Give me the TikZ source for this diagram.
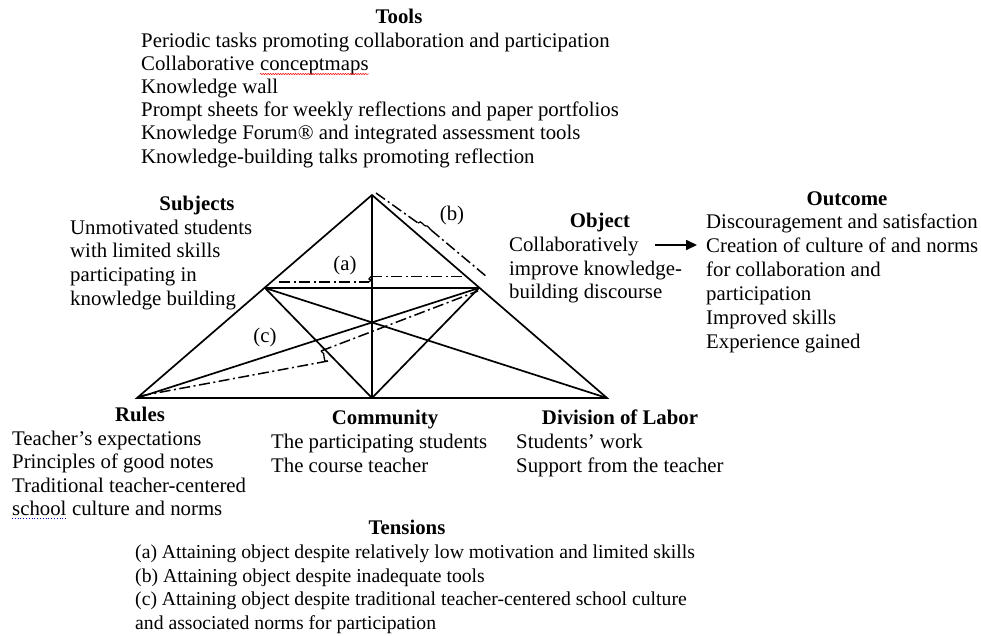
\documentclass[tikz,border=0pt]{standalone}
\usepackage{fontspec}
\setmainfont{Liberation Serif}
\usetikzlibrary{arrows.meta,decorations.pathmorphing}
\begin{document}
\begin{tikzpicture}[x=1pt,y=-1pt,
  txt/.style={font=\fontsize{20.8}{24}\selectfont, inner sep=0, anchor=base west},
  stxt/.style={font=\fontsize{19.7}{24}\selectfont, inner sep=0, anchor=base west},
  ttl/.style={font=\fontsize{20.8}{24}\selectfont\bfseries, inner sep=0, anchor=base},
  edge/.style={line width=1.7pt, black},
  dd/.style={line width=1.5pt, dash pattern=on 11pt off 3.5pt on 2pt off 3.5pt},
  zig/.style={line width=1.3pt}]
\useasboundingbox[fill=white] (0,0) rectangle (981,636);

% triangle points
\coordinate (T) at (372,195);
\coordinate (R) at (137,398);
\coordinate (D) at (607,398);
\coordinate (C) at (372,398);
\coordinate (S) at (265,288);
\coordinate (O) at (479,288);

\draw[edge, line join=miter] (T) -- (R) -- (D) -- cycle;
\draw[edge] (T) -- (C);
\draw[edge] (S) -- (O);
\draw[edge] (S) -- (C);
\draw[edge] (S) -- (D);
\draw[edge] (O) -- (C);
\draw[edge] (O) -- (R);

% tension (a)
\coordinate (a1) at (279,282);
\coordinate (a2) at (369,282);
\coordinate (a3) at (371,276.5);
\coordinate (a4) at (463,276.5);
\draw[dd] (a1) -- (a2);
\draw[zig] (a2) -- (371,280) -- (369,279) -- (a3);
\draw[dd] (a3) -- (a4);
% tension (b)
\coordinate (b1) at (376,193);
\coordinate (b2) at (418,223);
\coordinate (b3) at (431,230);
\coordinate (b4) at (487,277);
\draw[dd] (b1) -- (b2);
\draw[zig] (b2) .. controls (421,219) and (424,227) .. (426,226) .. controls (428,225) and (429,229) .. (b3);
\draw[dd] (b3) -- (b4);
% tension (c)
\coordinate (c1) at (140,396);
\coordinate (c2) at (328,361);
\coordinate (c3) at (321,351);
\coordinate (c4) at (478,291);
\draw[dd] (c1) -- (c2);
\draw[zig] (c2) .. controls (321,363) and (327,353) .. (c3);
\draw[dd] (c3) -- (c4);

\node[txt, anchor=base] (la) at (345,270) {(a)};
\node[txt, anchor=base] (lb) at (452,220) {(b)};
\node[txt, anchor=base] (lc) at (265,342) {(c)};

% Tools
\node[ttl] (tools) at (399,24) {Tools};
\node[txt] (to1) at (141,48) {Periodic tasks promoting collaboration and participation};
\node[txt] (to2a) at (141,71) {Collaborative};
\node[txt] (to2b) at ([xshift=5.2pt]to2a.base east) {conceptmaps};
\node[txt] (to3) at (141,94) {Knowledge wall};
\node[txt] (to4) at (141,117) {Prompt sheets for weekly reflections and paper portfolios};
\node[txt] (to5) at (141,140) {Knowledge Forum® and integrated assessment tools};
\node[txt] (to6) at (141,164) {Knowledge-building talks promoting reflection};
\draw[red, line width=0.5pt, decorate, decoration={snake, amplitude=0.7pt, segment length=2.5pt}]
  ([yshift=-3pt]to2b.base west) -- ([yshift=-3pt]to2b.base east);

% Subjects
\node[ttl] (subj) at (197,211) {Subjects};
\node[txt] (su1) at (70,234) {Unmotivated students};
\node[txt] (su2) at (70,257) {with limited skills};
\node[txt] (su3) at (70,281) {participating in};
\node[txt] (su4) at (70,305) {knowledge building};

% Object
\node[ttl] (obj) at (600,228) {Object};
\node[txt] (ob1) at (509,251) {Collaboratively};
\node[txt] (ob2) at (509,275) {improve knowledge-};
\node[txt] (ob3) at (509,298) {building discourse};
\coordinate (arrS) at (655,245);
\coordinate (arrE) at (697,245);
\draw[line width=1.6pt, -{Triangle[length=11pt,width=10pt]}] (arrS) -- (arrE);

% Outcome
\node[ttl] (outc) at (847,206) {Outcome};
\node[txt] (ou1) at (706,229) {Discouragement and satisfaction};
\node[txt] (ou2) at (706,252) {Creation of culture of and norms};
\node[txt] (ou3) at (706,276) {for collaboration and};
\node[txt] (ou4) at (706,300) {participation};
\node[txt] (ou5) at (706,324) {Improved skills};
\node[txt] (ou6) at (706,348) {Experience gained};

% Rules
\node[ttl] (rules) at (140,421) {Rules};
\node[txt] (ru1) at (12,445) {Teacher’s expectations};
\node[txt] (ru2) at (12,468) {Principles of good notes};
\node[txt] (ru3) at (12,492) {Traditional teacher-centered};
\node[txt] (ru4a) at (12,515) {school};
\node[txt] (ru4b) at ([xshift=5.2pt]ru4a.base east) {culture and norms};
\draw[blue!70!black, line width=0.8pt, dotted]
  ([yshift=-3pt]ru4a.base west) -- ([yshift=-3pt]ru4a.base east);

% Community
\node[ttl] (comm) at (385,424) {Community};
\node[txt] (co1) at (271,448) {The participating students};
\node[txt] (co2) at (271,472) {The course teacher};

% Division of labor
\node[ttl] (div) at (620,424) {Division of Labor};
\node[txt] (di1) at (516,448) {Students’ work};
\node[txt] (di2) at (516,472) {Support from the teacher};

% Tensions
\node[ttl] (tens) at (407,534) {Tensions};
\node[stxt] (te1) at (135,558) {(a) Attaining object despite relatively low motivation and limited skills};
\node[stxt] (te2) at (135,582) {(b) Attaining object despite inadequate tools};
\node[stxt] (te3) at (135,605) {(c) Attaining object despite traditional teacher-centered school culture};
\node[stxt] (te4) at (135,629) {and associated norms for participation};
\end{tikzpicture}
\end{document}
